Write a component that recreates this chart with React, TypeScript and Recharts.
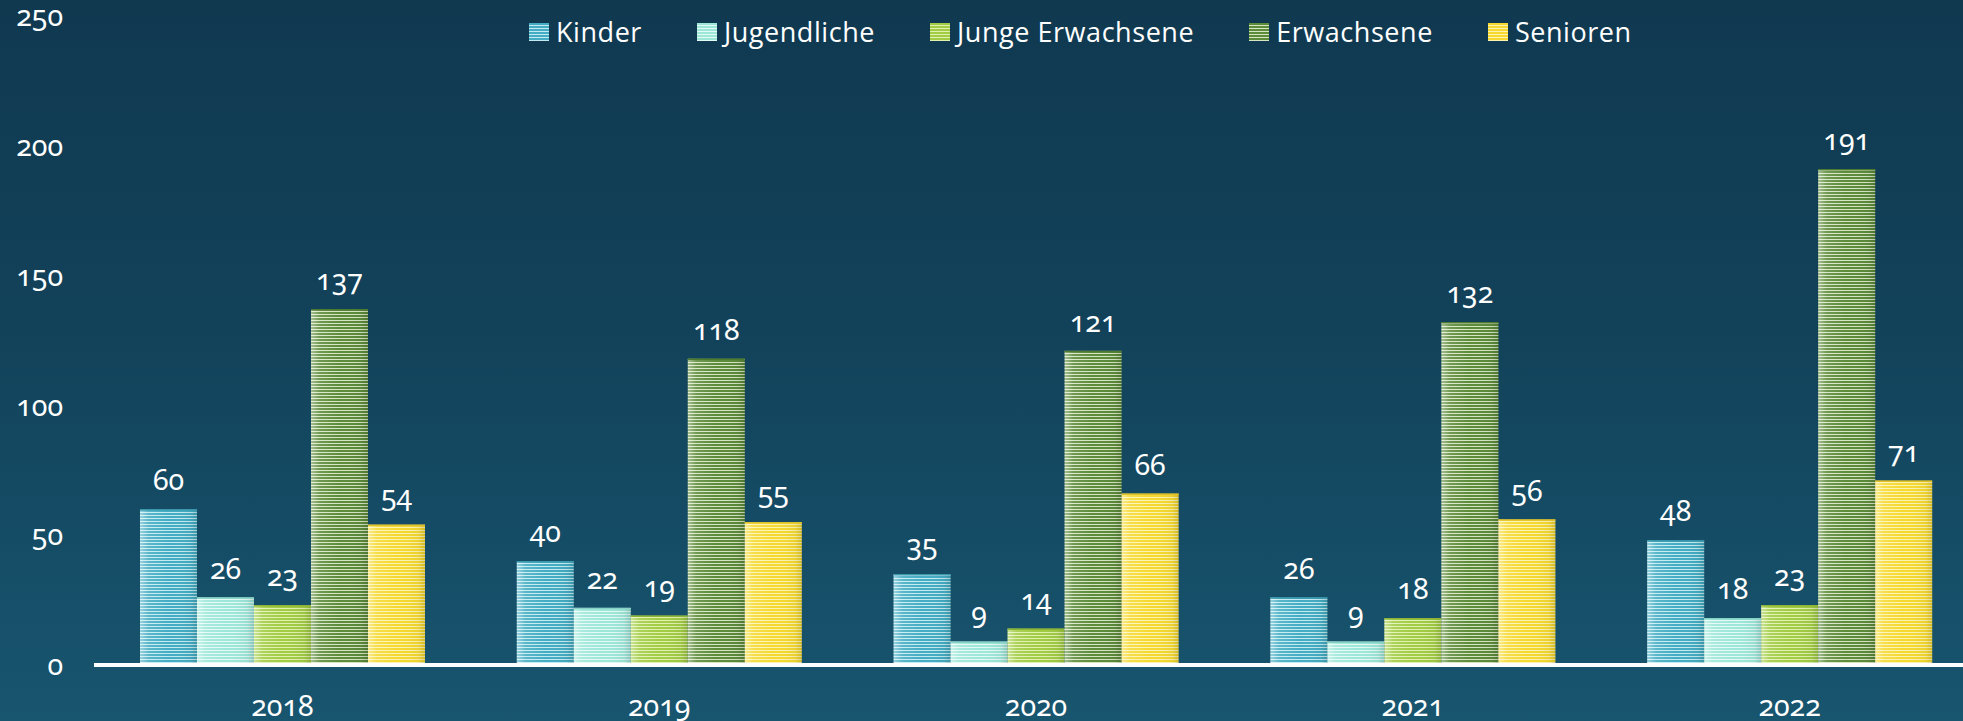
import React from 'react';
import { BarChart, Bar, XAxis, YAxis, LabelList } from 'recharts';

const years = ['2018', '2019', '2020', '2021', '2022'];
const kinder = [60, 40, 35, 26, 48];
const jugendliche = [26, 22, 9, 9, 18];
const jungeErwachsene = [23, 19, 14, 18, 23];
const erwachsene = [137, 118, 121, 132, 191];
const senioren = [54, 55, 66, 56, 71];
const yTicks = [0, 50, 100, 150, 200, 250];

const series = [
  { key: 'kinder', name: 'Kinder', values: kinder, base: '#44adc3', light: '#c3eaf2', edge: '#3a98ad' },
  { key: 'jugendliche', name: 'Jugendliche', values: jugendliche, base: '#9de7d9', light: '#e3faf5', edge: '#86d3c5' },
  { key: 'junge', name: 'Junge Erwachsene', values: jungeErwachsene, base: '#a1cc43', light: '#e0f1b0', edge: '#8cb537' },
  { key: 'erwachsene', name: 'Erwachsene', values: erwachsene, base: '#5c8b3a', light: '#d6e5c2', edge: '#4d7a30' },
  { key: 'senioren', name: 'Senioren', values: senioren, base: '#f5d930', light: '#fdf3b0', edge: '#dfc22a' },
];

const data = years.map((year, i) => {
  const row: Record<string, string | number> = { year };
  series.forEach((s) => { row[s.key] = s.values[i]; });
  return row;
});

const numFont = '"Noto Sans", Lato, sans-serif';
const legendFont = '"Open Sans", Lato, sans-serif';
const numStyle = { fontVariantNumeric: 'oldstyle-nums' as const, fontFeatureSettings: '"onum"' };
const numSize = 28.5;

function makeShape(s: typeof series[number]) {
  return (props: any) => {
    const { x, y, width, height } = props;
    if (!height || height <= 0) return null;
    return (
      <g>
        <rect x={x} y={y} width={width} height={height} fill={`url(#pat-${s.key})`} />
        <rect x={x} y={y} width={width} height={height} fill="url(#shade)" />
        <line x1={x} x2={x + width} y1={y + 0.5} y2={y + 0.5} stroke={s.edge} strokeWidth={1.5} />
      </g>
    );
  };
}

function LegendRow() {
  return (
    <div
      style={{
        position: 'absolute',
        top: 12,
        left: 529,
        display: 'flex',
        gap: 55,
        fontFamily: legendFont,
        fontSize: 27,
        letterSpacing: 0.55,
        color: '#ffffff',
        lineHeight: '40px',
      }}
    >
      {series.map((s) => (
        <div key={s.key} style={{ display: 'flex', alignItems: 'center', gap: 7 }}>
          <span
            style={{
              display: 'inline-block',
              width: 20,
              height: 18,
              background: `repeating-linear-gradient(to bottom, ${s.base} 0px, ${s.base} 2px, ${s.light} 2px, ${s.light} 3px)`,
            }}
          />
          <span>{s.name}</span>
        </div>
      ))}
    </div>
  );
}

export default function App() {
  return (
    <div
      style={{
        position: 'fixed',
        top: 0,
        left: 0,
        width: 1963,
        height: 721,
        overflow: 'hidden',
        background: 'linear-gradient(to bottom, #103950 0%, #12425a 45%, #18556f 100%)',
      }}
    >
      <BarChart
        width={1990}
        height={721}
        data={data}
        margin={{ top: 16, right: 12, left: 0, bottom: 0 }}
        barGap={0}
        barCategoryGap={46}
      >
        <defs>
          {series.map((s) => (
            <pattern key={s.key} id={`pat-${s.key}`} patternUnits="userSpaceOnUse" width={6} height={3}>
              <rect x={0} y={0} width={6} height={3} fill={s.base} />
              <rect x={0} y={2} width={6} height={1} fill={s.light} />
            </pattern>
          ))}
          <linearGradient id="shade" x1="0" y1="0" x2="1" y2="0">
            <stop offset="0%" stopColor="#ffffff" stopOpacity={0.45} />
            <stop offset="15%" stopColor="#ffffff" stopOpacity={0.12} />
            <stop offset="50%" stopColor="#ffffff" stopOpacity={0} />
            <stop offset="88%" stopColor="#000000" stopOpacity={0.04} />
            <stop offset="100%" stopColor="#000000" stopOpacity={0.14} />
          </linearGradient>
        </defs>
        <XAxis
          dataKey="year"
          height={56}
          axisLine={{ stroke: '#ffffff', strokeWidth: 4 }}
          tickLine={false}
          tickSize={0}
          tickMargin={31}
          tick={{ fill: '#ffffff', fontSize: numSize, fontFamily: numFont, style: numStyle }}
        />
        <YAxis
          width={94}
          domain={[0, 250]}
          ticks={yTicks}
          axisLine={false}
          tickLine={false}
          tickSize={0}
          tickMargin={31}
          tick={{ fill: '#ffffff', fontSize: numSize, fontFamily: numFont, style: numStyle }}
        />
        {series.map((s) => (
          <Bar
            key={s.key}
            dataKey={s.key}
            name={s.name}
            fill={s.base}
            shape={makeShape(s)}
            isAnimationActive={false}
          >
            <LabelList
              dataKey={s.key}
              position="top"
              offset={19}
              fill="#ffffff"
              fontSize={numSize}
              fontFamily={numFont}
              style={numStyle}
            />
          </Bar>
        ))}
      </BarChart>
      <LegendRow />
    </div>
  );
}
